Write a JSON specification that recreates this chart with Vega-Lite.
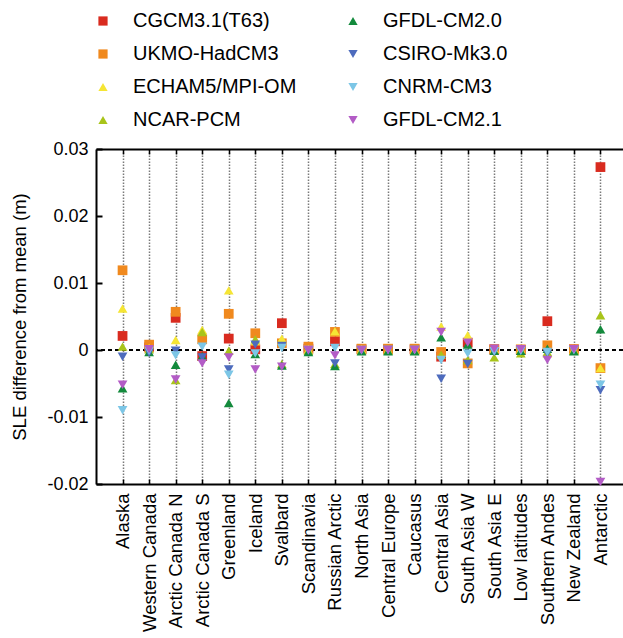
{
"$schema": "https://vega.github.io/schema/vega-lite/v6.json",
"autosize": {"type": "none"},
"width": 527,
"height": 335,
"padding": {"left": 96, "top": 149, "right": 0, "bottom": 154},
"background": "white",
"config": {
  "font": "Liberation Sans",
  "view": {"stroke": null},
  "axis": {"labelFont": "Liberation Sans", "titleFont": "Liberation Sans", "labelColor": "black", "titleColor": "black"}
},
"datasets": {
  "sle": [
    {"region":"Alaska","model":"CGCM3.1(T63)","sle":0.0021},
    {"region":"Alaska","model":"UKMO-HadCM3","sle":0.0119},
    {"region":"Alaska","model":"ECHAM5/MPI-OM","sle":0.0062},
    {"region":"Alaska","model":"NCAR-PCM","sle":0.0005},
    {"region":"Alaska","model":"GFDL-CM2.0","sle":-0.0057},
    {"region":"Alaska","model":"CSIRO-Mk3.0","sle":-0.0010},
    {"region":"Alaska","model":"CNRM-CM3","sle":-0.0090},
    {"region":"Alaska","model":"GFDL-CM2.1","sle":-0.0052},
    {"region":"Western Canada","model":"CGCM3.1(T63)","sle":0.0004},
    {"region":"Western Canada","model":"UKMO-HadCM3","sle":0.0008},
    {"region":"Western Canada","model":"ECHAM5/MPI-OM","sle":0.0003},
    {"region":"Western Canada","model":"NCAR-PCM","sle":0.0001},
    {"region":"Western Canada","model":"GFDL-CM2.0","sle":-0.0003},
    {"region":"Western Canada","model":"CSIRO-Mk3.0","sle":-0.0004},
    {"region":"Western Canada","model":"CNRM-CM3","sle":-0.0001},
    {"region":"Western Canada","model":"GFDL-CM2.1","sle":0.0001},
    {"region":"Arctic Canada N","model":"CGCM3.1(T63)","sle":0.0048},
    {"region":"Arctic Canada N","model":"UKMO-HadCM3","sle":0.0057},
    {"region":"Arctic Canada N","model":"ECHAM5/MPI-OM","sle":0.0015},
    {"region":"Arctic Canada N","model":"NCAR-PCM","sle":-0.0045},
    {"region":"Arctic Canada N","model":"GFDL-CM2.0","sle":-0.0022},
    {"region":"Arctic Canada N","model":"CSIRO-Mk3.0","sle":-0.0001},
    {"region":"Arctic Canada N","model":"CNRM-CM3","sle":-0.0008},
    {"region":"Arctic Canada N","model":"GFDL-CM2.1","sle":-0.0044},
    {"region":"Arctic Canada S","model":"CGCM3.1(T63)","sle":-0.0009},
    {"region":"Arctic Canada S","model":"UKMO-HadCM3","sle":0.0016},
    {"region":"Arctic Canada S","model":"ECHAM5/MPI-OM","sle":0.0030},
    {"region":"Arctic Canada S","model":"NCAR-PCM","sle":0.0027},
    {"region":"Arctic Canada S","model":"GFDL-CM2.0","sle":-0.0009},
    {"region":"Arctic Canada S","model":"CSIRO-Mk3.0","sle":-0.0011},
    {"region":"Arctic Canada S","model":"CNRM-CM3","sle":0.0005},
    {"region":"Arctic Canada S","model":"GFDL-CM2.1","sle":-0.0020},
    {"region":"Greenland","model":"CGCM3.1(T63)","sle":0.0017},
    {"region":"Greenland","model":"UKMO-HadCM3","sle":0.0054},
    {"region":"Greenland","model":"ECHAM5/MPI-OM","sle":0.0089},
    {"region":"Greenland","model":"NCAR-PCM","sle":-0.0001},
    {"region":"Greenland","model":"GFDL-CM2.0","sle":-0.0079},
    {"region":"Greenland","model":"CSIRO-Mk3.0","sle":-0.0029},
    {"region":"Greenland","model":"CNRM-CM3","sle":-0.0037},
    {"region":"Greenland","model":"GFDL-CM2.1","sle":-0.0011},
    {"region":"Iceland","model":"CGCM3.1(T63)","sle":0.0001},
    {"region":"Iceland","model":"UKMO-HadCM3","sle":0.0025},
    {"region":"Iceland","model":"ECHAM5/MPI-OM","sle":0.0013},
    {"region":"Iceland","model":"NCAR-PCM","sle":0.0016},
    {"region":"Iceland","model":"GFDL-CM2.0","sle":-0.0006},
    {"region":"Iceland","model":"CSIRO-Mk3.0","sle":0.0008},
    {"region":"Iceland","model":"CNRM-CM3","sle":-0.0005},
    {"region":"Iceland","model":"GFDL-CM2.1","sle":-0.0029},
    {"region":"Svalbard","model":"CGCM3.1(T63)","sle":0.0040},
    {"region":"Svalbard","model":"UKMO-HadCM3","sle":0.0010},
    {"region":"Svalbard","model":"ECHAM5/MPI-OM","sle":0.0017},
    {"region":"Svalbard","model":"NCAR-PCM","sle":-0.0021},
    {"region":"Svalbard","model":"GFDL-CM2.0","sle":-0.0023},
    {"region":"Svalbard","model":"CSIRO-Mk3.0","sle":0.0006},
    {"region":"Svalbard","model":"CNRM-CM3","sle":0.0003},
    {"region":"Svalbard","model":"GFDL-CM2.1","sle":-0.0025},
    {"region":"Scandinavia","model":"CGCM3.1(T63)","sle":0.0002},
    {"region":"Scandinavia","model":"UKMO-HadCM3","sle":0.0005},
    {"region":"Scandinavia","model":"ECHAM5/MPI-OM","sle":0.0001},
    {"region":"Scandinavia","model":"NCAR-PCM","sle":-0.0001},
    {"region":"Scandinavia","model":"GFDL-CM2.0","sle":-0.0003},
    {"region":"Scandinavia","model":"CSIRO-Mk3.0","sle":-0.0001},
    {"region":"Scandinavia","model":"CNRM-CM3","sle":0.0000},
    {"region":"Scandinavia","model":"GFDL-CM2.1","sle":0.0000},
    {"region":"Russian Arctic","model":"CGCM3.1(T63)","sle":0.0013},
    {"region":"Russian Arctic","model":"UKMO-HadCM3","sle":0.0027},
    {"region":"Russian Arctic","model":"ECHAM5/MPI-OM","sle":0.0028},
    {"region":"Russian Arctic","model":"NCAR-PCM","sle":-0.0021},
    {"region":"Russian Arctic","model":"GFDL-CM2.0","sle":-0.0024},
    {"region":"Russian Arctic","model":"CSIRO-Mk3.0","sle":-0.0020},
    {"region":"Russian Arctic","model":"CNRM-CM3","sle":0.0003},
    {"region":"Russian Arctic","model":"GFDL-CM2.1","sle":-0.0008},
    {"region":"North Asia","model":"CGCM3.1(T63)","sle":0.0001},
    {"region":"North Asia","model":"UKMO-HadCM3","sle":0.0002},
    {"region":"North Asia","model":"ECHAM5/MPI-OM","sle":0.0001},
    {"region":"North Asia","model":"NCAR-PCM","sle":-0.0001},
    {"region":"North Asia","model":"GFDL-CM2.0","sle":-0.0002},
    {"region":"North Asia","model":"CSIRO-Mk3.0","sle":-0.0001},
    {"region":"North Asia","model":"CNRM-CM3","sle":0.0000},
    {"region":"North Asia","model":"GFDL-CM2.1","sle":0.0000},
    {"region":"Central Europe","model":"CGCM3.1(T63)","sle":0.0001},
    {"region":"Central Europe","model":"UKMO-HadCM3","sle":0.0002},
    {"region":"Central Europe","model":"ECHAM5/MPI-OM","sle":0.0000},
    {"region":"Central Europe","model":"NCAR-PCM","sle":-0.0001},
    {"region":"Central Europe","model":"GFDL-CM2.0","sle":-0.0002},
    {"region":"Central Europe","model":"CSIRO-Mk3.0","sle":0.0000},
    {"region":"Central Europe","model":"CNRM-CM3","sle":0.0000},
    {"region":"Central Europe","model":"GFDL-CM2.1","sle":0.0000},
    {"region":"Caucasus","model":"CGCM3.1(T63)","sle":0.0001},
    {"region":"Caucasus","model":"UKMO-HadCM3","sle":0.0002},
    {"region":"Caucasus","model":"ECHAM5/MPI-OM","sle":0.0000},
    {"region":"Caucasus","model":"NCAR-PCM","sle":-0.0001},
    {"region":"Caucasus","model":"GFDL-CM2.0","sle":-0.0002},
    {"region":"Caucasus","model":"CSIRO-Mk3.0","sle":0.0000},
    {"region":"Caucasus","model":"CNRM-CM3","sle":0.0000},
    {"region":"Caucasus","model":"GFDL-CM2.1","sle":0.0000},
    {"region":"Central Asia","model":"CGCM3.1(T63)","sle":-0.0010},
    {"region":"Central Asia","model":"UKMO-HadCM3","sle":-0.0003},
    {"region":"Central Asia","model":"ECHAM5/MPI-OM","sle":0.0035},
    {"region":"Central Asia","model":"NCAR-PCM","sle":-0.0007},
    {"region":"Central Asia","model":"GFDL-CM2.0","sle":0.0019},
    {"region":"Central Asia","model":"CSIRO-Mk3.0","sle":-0.0043},
    {"region":"Central Asia","model":"CNRM-CM3","sle":-0.0015},
    {"region":"Central Asia","model":"GFDL-CM2.1","sle":0.0027},
    {"region":"South Asia W","model":"CGCM3.1(T63)","sle":0.0011},
    {"region":"South Asia W","model":"UKMO-HadCM3","sle":-0.0020},
    {"region":"South Asia W","model":"ECHAM5/MPI-OM","sle":0.0022},
    {"region":"South Asia W","model":"NCAR-PCM","sle":-0.0015},
    {"region":"South Asia W","model":"GFDL-CM2.0","sle":0.0008},
    {"region":"South Asia W","model":"CSIRO-Mk3.0","sle":-0.0021},
    {"region":"South Asia W","model":"CNRM-CM3","sle":-0.0005},
    {"region":"South Asia W","model":"GFDL-CM2.1","sle":0.0011},
    {"region":"South Asia E","model":"CGCM3.1(T63)","sle":0.0001},
    {"region":"South Asia E","model":"UKMO-HadCM3","sle":0.0001},
    {"region":"South Asia E","model":"ECHAM5/MPI-OM","sle":0.0002},
    {"region":"South Asia E","model":"NCAR-PCM","sle":-0.0011},
    {"region":"South Asia E","model":"GFDL-CM2.0","sle":-0.0001},
    {"region":"South Asia E","model":"CSIRO-Mk3.0","sle":-0.0003},
    {"region":"South Asia E","model":"CNRM-CM3","sle":-0.0002},
    {"region":"South Asia E","model":"GFDL-CM2.1","sle":0.0002},
    {"region":"Low latitudes","model":"CGCM3.1(T63)","sle":0.0000},
    {"region":"Low latitudes","model":"UKMO-HadCM3","sle":0.0001},
    {"region":"Low latitudes","model":"ECHAM5/MPI-OM","sle":0.0001},
    {"region":"Low latitudes","model":"NCAR-PCM","sle":-0.0005},
    {"region":"Low latitudes","model":"GFDL-CM2.0","sle":-0.0001},
    {"region":"Low latitudes","model":"CSIRO-Mk3.0","sle":-0.0001},
    {"region":"Low latitudes","model":"CNRM-CM3","sle":-0.0001},
    {"region":"Low latitudes","model":"GFDL-CM2.1","sle":0.0001},
    {"region":"Southern Andes","model":"CGCM3.1(T63)","sle":0.0043},
    {"region":"Southern Andes","model":"UKMO-HadCM3","sle":0.0007},
    {"region":"Southern Andes","model":"ECHAM5/MPI-OM","sle":-0.0005},
    {"region":"Southern Andes","model":"NCAR-PCM","sle":-0.0003},
    {"region":"Southern Andes","model":"GFDL-CM2.0","sle":0.0002},
    {"region":"Southern Andes","model":"CSIRO-Mk3.0","sle":-0.0005},
    {"region":"Southern Andes","model":"CNRM-CM3","sle":-0.0003},
    {"region":"Southern Andes","model":"GFDL-CM2.1","sle":-0.0015},
    {"region":"New Zealand","model":"CGCM3.1(T63)","sle":0.0001},
    {"region":"New Zealand","model":"UKMO-HadCM3","sle":0.0001},
    {"region":"New Zealand","model":"ECHAM5/MPI-OM","sle":0.0000},
    {"region":"New Zealand","model":"NCAR-PCM","sle":-0.0001},
    {"region":"New Zealand","model":"GFDL-CM2.0","sle":-0.0002},
    {"region":"New Zealand","model":"CSIRO-Mk3.0","sle":0.0000},
    {"region":"New Zealand","model":"CNRM-CM3","sle":0.0000},
    {"region":"New Zealand","model":"GFDL-CM2.1","sle":0.0001},
    {"region":"Antarctic","model":"CGCM3.1(T63)","sle":0.0273},
    {"region":"Antarctic","model":"UKMO-HadCM3","sle":-0.0027},
    {"region":"Antarctic","model":"ECHAM5/MPI-OM","sle":-0.0027},
    {"region":"Antarctic","model":"NCAR-PCM","sle":0.0052},
    {"region":"Antarctic","model":"GFDL-CM2.0","sle":0.0031},
    {"region":"Antarctic","model":"CSIRO-Mk3.0","sle":-0.0060},
    {"region":"Antarctic","model":"CNRM-CM3","sle":-0.0052},
    {"region":"Antarctic","model":"GFDL-CM2.1","sle":-0.0197}
  ]
},
"data": {"name": "sle"},
"layer": [
  {
    "mark": {"type": "rule", "color": "black", "strokeDash": [4, 3], "strokeWidth": 1.5},
    "encoding": {
      "y": {"datum": 0, "type": "quantitative", "title": "SLE difference from mean (m)",
            "scale": {"domain": [-0.02, 0.03], "nice": false, "zero": false}}
    }
  },
  {
    "mark": {"type": "point", "filled": true, "opacity": 1, "size": 95, "strokeWidth": 0},
    "encoding": {
      "x": {"field": "region", "type": "nominal",
            "scale": {"type": "point", "padding": 1, "range": [0, 531],
                      "domain": ["Alaska","Western Canada","Arctic Canada N","Arctic Canada S","Greenland","Iceland","Svalbard","Scandinavia","Russian Arctic","North Asia","Central Europe","Caucasus","Central Asia","South Asia W","South Asia E","Low latitudes","Southern Andes","New Zealand","Antarctic"]},
            "axis": {"orient": "bottom", "title": null, "labelAngle": 270, "labelFontSize": 18.5, "labelPadding": 14,
                     "tickSize": -5, "tickColor": "black", "tickWidth": 1.5,
                     "domainColor": "black", "domainWidth": 2,
                     "grid": true, "gridColor": "#7a7a7a", "gridDash": [1.5, 1.5], "gridWidth": 1.5}},
      "y": {"field": "sle", "type": "quantitative", "title": "SLE difference from mean (m)",
            "scale": {"domain": [-0.02, 0.03], "nice": false, "zero": false},
            "axis": {"orient": "left", "values": [-0.02, -0.01, 0, 0.01, 0.02, 0.03],
                     "labelExpr": "datum.value == 0 ? '0' : (datum.value < 0 ? '-' + format(-datum.value, '.2f') : format(datum.value, '.2f'))",
                     "labelFontSize": 18, "labelPadding": 14, "tickSize": -6, "tickColor": "black", "tickWidth": 2,
                     "domainColor": "black", "domainWidth": 2, "grid": false,
                     "titleFontSize": 18.5, "titleFontWeight": "normal", "titlePadding": 17}},
      "color": {"field": "model", "type": "nominal",
                "scale": {"domain": ["CGCM3.1(T63)","UKMO-HadCM3","ECHAM5/MPI-OM","NCAR-PCM","GFDL-CM2.0","CSIRO-Mk3.0","CNRM-CM3","GFDL-CM2.1"],
                          "range": ["#d92b1f","#f0891e","#f5e534","#a8c41a","#138a3c","#4d6bbd","#7cc6e6","#b35cc6"]},
                "legend": {"orient": "none", "legendX": -3, "legendY": -138, "columns": 2, "title": null,
                           "labelFontSize": 20, "labelFont": "Liberation Sans", "labelColor": "black", "labelLimit": 400,
                           "symbolSize": 85, "symbolStrokeWidth": 0, "labelOffset": 20, "rowPadding": 13, "columnPadding": 46}},
      "shape": {"field": "model", "type": "nominal",
                "scale": {"domain": ["CGCM3.1(T63)","UKMO-HadCM3","ECHAM5/MPI-OM","NCAR-PCM","GFDL-CM2.0","CSIRO-Mk3.0","CNRM-CM3","GFDL-CM2.1"],
                          "range": ["square","square","triangle-up","triangle-up","triangle-up","triangle-down","triangle-down","triangle-down"]},
                "legend": {"orient": "none", "legendX": -3, "legendY": -138, "columns": 2, "title": null,
                           "labelFontSize": 20, "labelFont": "Liberation Sans", "labelColor": "black", "labelLimit": 400,
                           "symbolSize": 85, "symbolStrokeWidth": 0, "labelOffset": 20, "rowPadding": 13, "columnPadding": 46}}
    }
  },
  {
    "mark": {"type": "point", "opacity": 0},
    "encoding": {
      "x": {"field": "region", "type": "nominal",
            "axis": {"orient": "top", "title": null, "labels": false, "tickSize": -5, "tickColor": "black", "tickWidth": 1.5,
                     "domainColor": "black", "domainWidth": 2, "grid": false}}
    }
  }
],
"resolve": {"axis": {"x": "independent"}}
}
